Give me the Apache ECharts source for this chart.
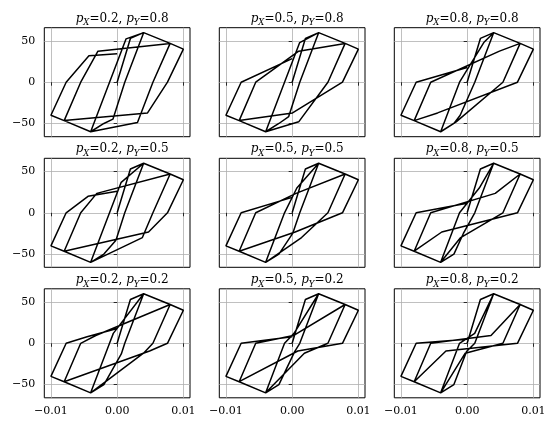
<!DOCTYPE html>
<html>
<head>
<meta charset="utf-8">
<script src="https://cdn.jsdelivr.net/npm/echarts@6/dist/echarts.min.js"></script>
<style>html,body{margin:0;padding:0;background:#fff}#c{width:555px;height:429px}</style>
</head>
<body>
<div id="c"></div>
<script>
// parameter values
const pXValues = [0.2, 0.5, 0.8];     // columns
const pYValues = [0.8, 0.5, 0.2];     // rows
const xTicks = [-0.01, 0, 0.01];
const yTicks = [-50, 0, 50];

// hysteresis paths [displacement, force]
const loop_pX02_pY08 = [[0,0],[0.002,53],[0.004,60],[0.00115,0],[-0.00064,-44.8],[-0.002,-50],[-0.004,-60],[-0.00115,0],[0.00135,52.5],[0.004,60],[0.008,47],[0.0054,0],[0.00307,-48.9],[-0.004,-60],[-0.008,-46.5],[-0.0055,0],[-0.0029,37.6],[0.008,47],[0.01,40],[0.0076,0],[0.00459,-37.2],[-0.008,-46.5],[-0.01,-40],[-0.0077,0],[-0.00426,32],[0,34.4]];
const loop_pX05_pY08 = [[0,0],[0.002,53],[0.004,60],[0.00115,0],[-0.00052,-41.6],[-0.002,-50],[-0.004,-60],[-0.00115,0],[0.00114,48],[0.004,60],[0.008,47],[0.0054,0],[0.00099,-48],[-0.004,-60],[-0.008,-46.5],[-0.0055,0],[0.00099,37.6],[0.008,47],[0.01,40],[0.0076,0],[0.00006,-37.2],[-0.008,-46.5],[-0.01,-40],[-0.0077,0],[0,28.6]];
const loop_pX08_pY08 = [[0,0],[0.002,53],[0.004,60],[0.00115,0],[-0.00105,-40],[-0.002,-50],[-0.004,-60],[-0.00115,0],[0.00251,48],[0.004,60],[0.008,47],[0.0054,0],[-0.00166,-48],[-0.004,-60],[-0.008,-46.5],[-0.0055,0],[0.00488,37.6],[0.008,47],[0.01,40],[0.0076,0],[-0.00446,-37.2],[-0.008,-46.5],[-0.01,-40],[-0.0077,0],[0,17.9]];
const loop_pX02_pY05 = [[0,0],[0.002,53],[0.004,60],[0.00115,0],[-0.00018,-33.3],[-0.002,-50],[-0.004,-60],[-0.00115,0],[0.00061,36.9],[0.004,60],[0.008,47],[0.0054,0],[0.00381,-30],[-0.004,-60],[-0.008,-46.5],[-0.0055,0],[-0.00307,23.5],[0.008,47],[0.01,40],[0.0076,0],[0.00474,-23.25],[-0.008,-46.5],[-0.01,-40],[-0.0077,0],[-0.0044,20],[0,26.1]];
const loop_pX05_pY05 = [[0,0],[0.002,53],[0.004,60],[0.00115,0],[0.00008,-25],[-0.002,-50],[-0.004,-60],[-0.00115,0],[0.00071,30],[0.004,60],[0.008,47],[0.0054,0],[0.00142,-30],[-0.004,-60],[-0.008,-46.5],[-0.0055,0],[0.00059,23.5],[0.008,47],[0.01,40],[0.0076,0],[0.00046,-23.25],[-0.008,-46.5],[-0.01,-40],[-0.0077,0],[0,18.7]];
const loop_pX08_pY05 = [[0,0],[0.002,53],[0.004,60],[0.00115,0],[-0.00057,-25],[-0.002,-50],[-0.004,-60],[-0.00115,0],[0.00183,30],[0.004,60],[0.008,47],[0.0054,0],[-0.00098,-30],[-0.004,-60],[-0.008,-46.5],[-0.0055,0],[0.00424,23.5],[0.008,47],[0.01,40],[0.0076,0],[-0.00383,-23.25],[-0.008,-46.5],[-0.01,-40],[-0.0077,0],[0,11.7]];
const loop_pX02_pY02 = [[0,0],[0.002,53],[0.004,60],[0.00115,0],[0.00063,-12.9],[-0.002,-50],[-0.004,-60],[-0.00115,0],[-0.00058,12],[0.004,60],[0.008,47],[0.0054,0],[0.00398,-12],[-0.004,-60],[-0.008,-46.5],[-0.0055,0],[-0.00323,9.4],[0.008,47],[0.01,40],[0.0076,0],[0.0049,-9.3],[-0.008,-46.5],[-0.01,-40],[-0.0077,0],[-0.00454,8],[0,18]];
const loop_pX05_pY02 = [[0,0],[0.002,53],[0.004,60],[0.00115,0],[0.00038,-10],[-0.002,-50],[-0.004,-60],[-0.00115,0],[0.00028,12],[0.004,60],[0.008,47],[0.0054,0],[0.00184,-12],[-0.004,-60],[-0.008,-46.5],[-0.0055,0],[0.00019,9.4],[0.008,47],[0.01,40],[0.0076,0],[0.00085,-9.3],[-0.008,-46.5],[-0.01,-40],[-0.0077,0],[0,7.8]];
const loop_pX08_pY02 = [[0,0],[0.002,53],[0.004,60],[0.00115,0],[-0.00009,-10],[-0.002,-50],[-0.004,-60],[-0.00115,0],[0.00114,12],[0.004,60],[0.008,47],[0.0054,0],[-0.00029,-12],[-0.004,-60],[-0.008,-46.5],[-0.0055,0],[0.0036,9.4],[0.008,47],[0.01,40],[0.0076,0],[-0.0032,-9.3],[-0.008,-46.5],[-0.01,-40],[-0.0077,0],[0,4.9]];

const loops = [
  [loop_pX02_pY08, loop_pX05_pY08, loop_pX08_pY08],
  [loop_pX02_pY05, loop_pX05_pY05, loop_pX08_pY05],
  [loop_pX02_pY02, loop_pX05_pY02, loop_pX08_pY02]
];

const FONT = 'DejaVu Serif';
const colLeft = [44.3, 219.3, 394.3];
const rowTop = [27.7, 158.3, 288.8];
const W = 145.7, H = 109;

const fmtX = v => (v === 0 ? '0.00' : (v < 0 ? '\u2212' : '') + Math.abs(v).toFixed(2));
const fmtY = v => (v < 0 ? '\u2212' : '') + Math.abs(v);

const grid = [], xAxis = [], yAxis = [], series = [], title = [];
for (let r = 0; r < 3; r++) {
  for (let c = 0; c < 3; c++) {
    const i = r * 3 + c;
    grid.push({left: colLeft[c], top: rowTop[r], width: W, height: H, show: true,
      borderColor: '#000', borderWidth: 1, backgroundColor: 'transparent', containLabel: false});
    xAxis.push({type: 'value', gridIndex: i, min: -0.011, max: 0.011,
      axisLine: {show: false},
      axisTick: {show: true, customValues: xTicks, inside: false, length: 3.5, lineStyle: {color: '#000', width: 0.8}},
      axisLabel: {show: r === 2, customValues: xTicks, formatter: fmtX, fontFamily: FONT, fontSize: 11, color: '#000', margin: 8},
      splitLine: {show: true, lineStyle: {color: '#b0b0b0', width: 0.8}}});
    yAxis.push({type: 'value', gridIndex: i, min: -66, max: 66,
      axisLine: {show: false},
      axisTick: {show: true, customValues: yTicks, inside: false, length: 3.5, lineStyle: {color: '#000', width: 0.8}},
      axisLabel: {show: c === 0, customValues: yTicks, formatter: fmtY, fontFamily: FONT, fontSize: 11, color: '#000', margin: 9},
      splitLine: {show: true, lineStyle: {color: '#b0b0b0', width: 0.8}}});
    series.push({type: 'line', xAxisIndex: i, yAxisIndex: i, data: loops[r][c],
      showSymbol: false, symbol: 'none', animation: false,
      lineStyle: {color: '#000', width: 1.5}, z: 3});
    title.push({
      text: '{i|p}{s|X}{n|=' + pXValues[c] + ', }{i|p}{s|Y}{n|=' + pYValues[r] + '}',
      left: colLeft[c] + W / 2, top: rowTop[r] - 23, textAlign: 'center',
      textStyle: {fontWeight: 'normal', rich: {
        i: {fontFamily: FONT, fontStyle: 'italic', fontWeight: 'normal', fontSize: 12, color: '#000', verticalAlign: 'bottom', lineHeight: 15},
        s: {fontFamily: FONT, fontStyle: 'italic', fontWeight: 'normal', fontSize: 8.5, color: '#000', verticalAlign: 'bottom', lineHeight: 11, padding: [0, 0, -3, 0]},
        n: {fontFamily: FONT, fontWeight: 'normal', fontSize: 12, color: '#000', verticalAlign: 'bottom', lineHeight: 15}
      }}
    });
  }
}

const chart = echarts.init(document.getElementById('c'), null, {renderer: 'canvas'});
chart.setOption({animation: false, title, grid, xAxis, yAxis, series});
</script>
</body>
</html>
